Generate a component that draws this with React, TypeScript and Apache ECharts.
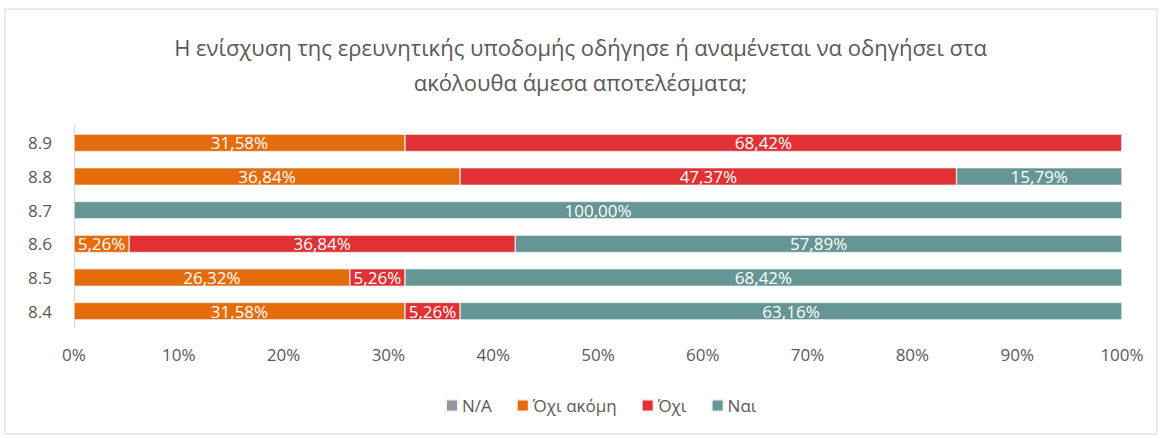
import React, { useEffect, useRef } from "react";
import * as echarts from "echarts";

const categories = ["8.4", "8.5", "8.6", "8.7", "8.8", "8.9"];
const seriesNames = ["N/A", "Όχι ακόμη", "Όχι", "Ναι"];
const naValues = [0, 0, 0, 0, 0, 0];
const notYetValues = [31.58, 26.32, 5.26, 0, 36.84, 31.58];
const noValues = [5.26, 5.26, 36.84, 0, 47.37, 68.42];
const yesValues = [63.16, 68.42, 57.89, 100, 15.79, 0];
const colors = ["#939598", "#E46C0A", "#E03235", "#659695"];
const titleText = "Η ενίσχυση της ερευνητικής υποδομής οδήγησε ή αναμένεται να οδηγήσει στα\nακόλουθα άμεσα αποτελέσματα;";

const FONT = "'Open Sans', 'Noto Sans', sans-serif";

export default function App() {
  const ref = useRef<HTMLDivElement>(null);
  useEffect(() => {
    if (!ref.current) return;
    const chart = echarts.init(ref.current, undefined, { renderer: "svg" });
    const allData = [naValues, notYetValues, noValues, yesValues];
    chart.setOption({
      animation: false,
      backgroundColor: "#ffffff",
      textStyle: { fontFamily: FONT },
      title: {
        text: titleText,
        left: "center",
        top: 24,
        textStyle: {
          fontFamily: FONT,
          fontSize: 22,
          fontWeight: "normal",
          color: "#595959",
          lineHeight: 35,
        },
      },
      graphic: [
        {
          type: "rect",
          shape: { x: 5, y: 9, width: 1152, height: 425 },
          style: { fill: "none", stroke: "#d9d9d9", lineWidth: 1 },
          silent: true,
          z: -1,
        },
      ],
      legend: {
        bottom: 19,
        left: 440,
        itemWidth: 12,
        itemHeight: 12,
        itemGap: 24,
        icon: "rect",
        textStyle: { fontFamily: FONT, fontSize: 17, color: "#595959", padding: [0, 0, 0, -1] },
        data: seriesNames,
      },
      grid: { left: 74, right: 39, top: 126, bottom: 110, containLabel: false },
      xAxis: {
        type: "value",
        min: 0,
        max: 100,
        interval: 10,
        axisLine: { show: false },
        axisTick: { show: false },
        splitLine: { show: false },
        axisLabel: {
          formatter: (v: number) => v + "%",
          fontFamily: FONT,
          fontSize: 17,
          color: "#595959",
          margin: 18,
        },
      },
      yAxis: {
        type: "category",
        data: categories,
        axisLine: { show: true, lineStyle: { color: "#d9d9d9", width: 1 } },
        axisTick: { show: false },
        axisLabel: { fontFamily: FONT, fontSize: 17, color: "#595959", margin: 22 },
      },
      series: seriesNames.map((name, i) => ({
        name,
        type: "bar",
        stack: "total",
        barWidth: "52%",
        data: allData[i],
        itemStyle: { color: colors[i], borderColor: "#f2f2f2", borderWidth: 0.6 },
        label: {
          show: true,
          position: "inside",
          color: "#ffffff",
          fontFamily: FONT,
          fontSize: 17,
          formatter: (p: any) =>
            p.value > 0 ? p.value.toFixed(2).replace(".", ",") + "%" : "",
        },
      })),
    });
    return () => chart.dispose();
  }, []);
  return (
    <div
      ref={ref}
      style={{ position: "fixed", left: 0, top: 0, width: 1161, height: 438 }}
    />
  );
}
